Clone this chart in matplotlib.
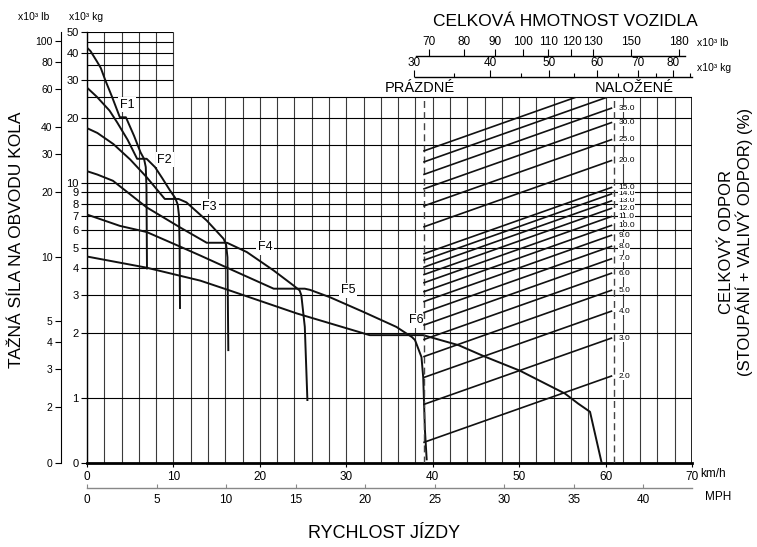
import numpy as np
import matplotlib
matplotlib.use('Agg')
import matplotlib.pyplot as plt
from matplotlib.patches import Rectangle
from matplotlib.ticker import FixedLocator, NullFormatter, NullLocator

plt.rcParams['font.family'] = ['Liberation Sans', 'DejaVu Sans']
NARROW = ['Liberation Sans Narrow', 'Liberation Sans', 'DejaVu Sans']

# --- rimpull curves, speed km/h vs force x10^3 kg ---
F1_KMH = [0, 0.4, 1.15, 1.6, 2.1, 2.9, 3.8, 4.5, 5.44, 6.2, 6.6, 6.8, 6.88, 6.94]
F1_KG = [42.3, 40.8, 36.5, 34, 30, 25, 20.1, 20.1, 16.5, 13.8, 12.9, 11.8, 9.5, 4.0]

F2_KMH = [0, 1.15, 2.6, 3.5, 4.7, 5.8, 6.9, 7.87, 8.7, 9.6, 10.2, 10.5, 10.65, 10.72, 10.76]
F2_KG = [27.6, 25.0, 21.6, 19.0, 15.8, 12.9, 12.9, 11.8, 10.5, 9.2, 8.5, 7.9, 7.0, 5.0, 2.62]

F3_KMH = [0, 1.2, 3.05, 5.0, 6.9, 9.0, 10.6, 11.5, 13.85, 15.8, 16.1, 16.25, 16.35]
F3_KG = [17.9, 17.0, 15.1, 12.8, 10.6, 8.4, 8.4, 8.1, 6.67, 5.49, 5.15, 4.5, 1.67]

F4_KMH = [0, 1.2, 3.0, 6.9, 10.76, 13.85, 16.2, 18.5, 21.6, 23.9, 24.6, 24.8, 25.2, 25.5]
F4_KG = [11.3, 10.9, 10.2, 7.68, 6.2, 5.26, 5.26, 4.76, 3.91, 3.33, 3.16, 3.0, 2.14, 0.98]

F5_KMH = [0, 3.8, 6.9, 10.76, 13.1, 16.5, 21.6, 25.2, 25.8, 28.1, 32.0, 35.8, 37.0, 37.6,
          37.95, 38.7, 38.9, 39.1, 39.3]
F5_KG = [7.11, 6.3, 5.9, 5.05, 4.59, 3.98, 3.22, 3.22, 3.18, 2.94, 2.51, 2.14, 1.99, 1.92,
         1.86, 1.55, 1.25, 0.71, 0.52]

F6_KMH = [0, 6.9, 13.1, 16.5, 24.3, 32.7, 38.9, 43.0, 46.0, 50.1, 55.3, 56.8, 58.2, 59.55]
F6_KG = [4.54, 4.03, 3.51, 3.16, 2.47, 1.96, 1.96, 1.76, 1.56, 1.34, 1.05, 0.945, 0.864, 0.5]

CURVES = [(F1_KMH, F1_KG), (F2_KMH, F2_KG), (F3_KMH, F3_KG),
          (F4_KMH, F4_KG), (F5_KMH, F5_KG), (F6_KMH, F6_KG)]
CURVE_NAMES = ['F1', 'F2', 'F3', 'F4', 'F5', 'F6']
CURVE_LABEL_KMH = [4.63, 9.0, 14.2, 20.6, 30.2, 38.1]
CURVE_LABEL_KG = [23.0, 12.8, 7.73, 5.0, 3.16, 2.3]

# --- total resistance (grade + rolling) lines ---
GRADES = [2, 3, 4, 5, 6, 7, 8, 9, 10, 11, 12, 13, 14, 15, 20, 25, 30, 35, 40, 45]
GRADE_LABELS = [2, 3, 4, 5, 6, 7, 8, 9, 10, 11, 12, 13, 14, 15, 20, 25, 30, 35]
W_EMPTY = 31.2      # x10^3 kg
W_LOADED = 63.3
W_LOADED_MARK = 64.0

# --- axis ticks ---
KMH_TICKS = [0, 10, 20, 30, 40, 50, 60, 70]
MPH_TICKS = [0, 5, 10, 15, 20, 25, 30, 35, 40]
KG_TICKS = [0.5, 1, 2, 3, 4, 5, 6, 7, 8, 9, 10, 20, 30, 40, 50]
KG_TICK_LABELS = ['0', '1', '2', '3', '4', '5', '6', '7', '8', '9', '10', '20', '30', '40', '50']
LB_TICKS = [100, 80, 60, 40, 30, 20, 10, 5, 4, 3, 2]
TOP_KG_TICKS = [30, 40, 50, 60, 70, 80]
TOP_KG_MINOR = [35, 45, 55, 65, 75, 85]
TOP_LB_TICKS = [70, 80, 90, 100, 110, 120, 130, 150, 180]
GRID_KG_FULL = [1, 2, 3, 4, 5, 6, 7, 8, 9, 10, 15, 20, 25]
GRID_KG_UPPER = [30, 35, 40, 45, 50]

LB_PER_KG = 1 / 0.4536
KMH_PER_MPH = 1.609344

# layout (pixels of the 757x547 picture)
PW, PH = 757, 547
W_LEFT, W_RIGHT = 8.74, 85.8   # weight scale at the left/right plot edges


def fx(px):
    return px / PW


def fy(py):
    return 1 - py / PH


fig = plt.figure(figsize=(PW / 100, PH / 100), dpi=100)
ax = fig.add_axes([fx(87), fy(463), fx(692) - fx(87), fy(32) - fy(463)])
ax.set_xlim(0, 70)
ax.set_yscale('log')
ax.set_ylim(0.5, 50)

# grid
for v in range(0, 71, 2):
    top = 50 if v <= 10 else 25
    ax.vlines(v, 0.5, top, color='#3a3a3a', lw=0.8, zorder=1)
ax.hlines(GRID_KG_FULL, 0, 70, color='black', lw=0.8, zorder=1)
ax.hlines(GRID_KG_UPPER, 0, 10, color='black', lw=0.8, zorder=1)
ax.vlines(70, 0.5, 25, color='black', lw=1.2, zorder=1)

for s in ['top', 'right']:
    ax.spines[s].set_visible(False)
ax.spines['left'].set_linewidth(1.0)
ax.spines['bottom'].set_linewidth(2.0)

ax.set_yticks(KG_TICKS, KG_TICK_LABELS)
ax.yaxis.set_minor_locator(NullLocator())
ax.tick_params(axis='y', length=4, width=0.8, pad=2, labelsize=8)
ax.set_xticks(KMH_TICKS, [str(t) for t in KMH_TICKS])
ax.tick_params(axis='x', length=3, width=0.8, pad=3, labelsize=8.5)
for lab in ax.get_xticklabels():
    lab.set_family(NARROW)

# curves
for (xs, ys), name, lx, ly in zip(CURVES, CURVE_NAMES, CURVE_LABEL_KMH, CURVE_LABEL_KG):
    ax.plot(xs, ys, color='#111111', lw=1.4, zorder=4, solid_joinstyle='round')
    ax.text(lx, ly, name, fontsize=9, ha='center', va='center', zorder=3,
            bbox=dict(fc='white', ec='none', pad=1.2))

# weight scale for the resistance lines
axw = ax.twiny()
axw.set_xscale('log')
axw.set_xlim(W_LEFT, W_RIGHT)
axw.axis('off')
clip = Rectangle((W_LEFT, 0.5), W_RIGHT - W_LEFT, 24.5, transform=axw.transData)
for g in GRADES:
    ln, = axw.plot([W_EMPTY, W_LOADED], [W_EMPTY * g / 100, W_LOADED * g / 100],
                   color='#111111', lw=1.2, zorder=3)
    ln.set_clip_path(clip)
for g in GRADE_LABELS:
    axw.text(65.0, W_LOADED * g / 100, f'{g:.1f}', fontsize=6, ha='left', va='center',
             family=NARROW, zorder=3, bbox=dict(fc='white', ec='none', pad=0.1))
axw.vlines([W_EMPTY, W_LOADED_MARK], 0.5, 25, color='#444444', lw=1.0,
           linestyles=(0, (5, 3)), zorder=2)

# left lb axis
axl = ax.twinx()
axl.set_yscale('log')
axl.set_ylim(0.5 * LB_PER_KG, 50 * LB_PER_KG)
for s in ['top', 'right', 'bottom']:
    axl.spines[s].set_visible(False)
axl.spines['left'].set_visible(True)
axl.spines['left'].set_position(('outward', 26 * 0.72))
axl.spines['left'].set_linewidth(0.8)
axl.yaxis.set_ticks_position('left')
axl.set_yticks(LB_TICKS + [0.5 * LB_PER_KG], [str(t) for t in LB_TICKS] + ['0'])
axl.yaxis.set_minor_locator(NullLocator())
axl.tick_params(axis='y', length=4, width=0.8, pad=2, labelsize=7.5)

# mph axis
axm = fig.add_axes([fx(87), fy(488), fx(692) - fx(87), 0.0001])
axm.set_xlim(0, 70 / KMH_PER_MPH)
axm.set_yticks([])
for s in ['top', 'right', 'left']:
    axm.spines[s].set_visible(False)
axm.spines['bottom'].set_color('#888888')
axm.spines['bottom'].set_linewidth(1.0)
axm.set_xticks(MPH_TICKS, [str(t) for t in MPH_TICKS])
axm.tick_params(axis='x', direction='in', length=3, color='#888888', pad=4, labelsize=8.5)
for lab in axm.get_xticklabels():
    lab.set_family(NARROW)
axm.patch.set_visible(False)

# top weight scales
axkg = fig.add_axes([fx(87), fy(77), fx(692) - fx(87), 0.0001])
axlb = fig.add_axes([fx(87), fy(56), fx(692) - fx(87), 0.0001])
for a, lim, ticks, bounds in [(axkg, (W_LEFT, W_RIGHT), TOP_KG_TICKS, (30.2, 85.8)),
                              (axlb, (W_LEFT * LB_PER_KG, W_RIGHT * LB_PER_KG), TOP_LB_TICKS,
                               (66.6, 184.3))]:
    a.set_xscale('log')
    a.set_xlim(*lim)
    a.set_yticks([])
    a.patch.set_visible(False)
    for s in ['bottom', 'right', 'left']:
        a.spines[s].set_visible(False)
    a.spines['top'].set_linewidth(1.0)
    a.spines['top'].set_bounds(*bounds)
    a.xaxis.set_ticks_position('top')
    a.set_xticks(ticks, [str(t) for t in ticks])
    a.xaxis.set_minor_locator(NullLocator())
    a.tick_params(axis='x', direction='out', length=5, width=0.8, pad=1, labelsize=8.5)
axkg.xaxis.set_minor_locator(FixedLocator(TOP_KG_MINOR))
axkg.xaxis.set_minor_formatter(NullFormatter())
axkg.tick_params(axis='x', which='minor', direction='out', length=3, width=0.8)

# texts
fig.text(fx(565), fy(22), 'CELKOVÁ HMOTNOST VOZIDLA', fontsize=12.5, ha='center', va='center')
fig.text(fx(697), fy(43), 'x10³ lb', fontsize=7.5, ha='left', va='center')
fig.text(fx(697), fy(68), 'x10³ kg', fontsize=7.5, ha='left', va='center')
fig.text(fx(420), fy(88), 'PRÁZDNÉ', fontsize=10.5, ha='center', va='center')
fig.text(fx(634), fy(88), 'NALOŽENÉ', fontsize=10.5, ha='center', va='center')
fig.text(fx(18), fy(17), 'x10³ lb', fontsize=7.5, ha='left', va='center')
fig.text(fx(69), fy(17), 'x10³ kg', fontsize=7.5, ha='left', va='center')
fig.text(fx(17), fy(240), 'TAŽNÁ SÍLA NA OBVODU KOLA', fontsize=12.5, rotation=90,
         ha='center', va='center')
fig.text(fx(736), fy(242), 'CELKOVÝ ODPOR\n(STOUPÁNÍ + VALIVÝ ODPOR) (%)', fontsize=12,
         rotation=90, ha='center', va='center', multialignment='center', linespacing=1.1)
fig.text(fx(700), fy(474), 'km/h', fontsize=8.5, ha='left', va='center', family=NARROW)
fig.text(fx(705), fy(497), 'MPH', fontsize=8.5, ha='left', va='center', family=NARROW)
fig.text(fx(384), fy(533), 'RYCHLOST JÍZDY', fontsize=13, ha='center', va='center',
         family=NARROW)

fig.savefig('out.png', dpi=100)
